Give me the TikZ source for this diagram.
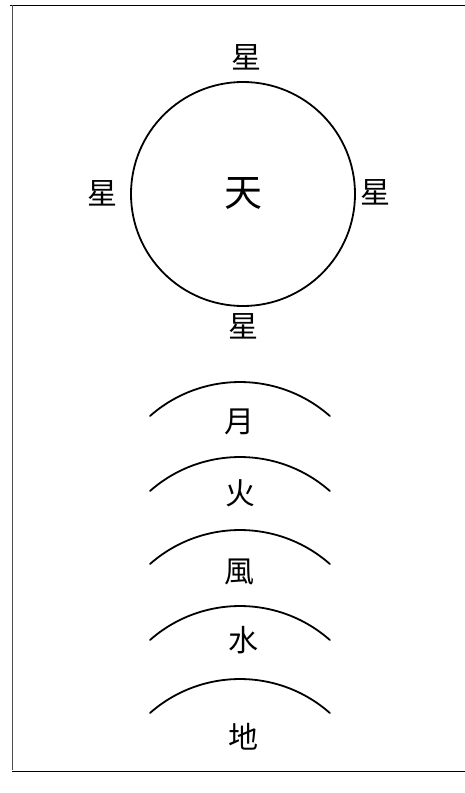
\documentclass[tikz,border=0pt]{standalone}
\usepackage{fontspec}
\newfontfamily\cjk{Noto Sans CJK TC}
\begin{document}
\begin{tikzpicture}[x=1pt,y=-1pt,
  lbl/.style={font=\cjk\fontsize{30}{30}\selectfont, inner sep=0pt},
  biglbl/.style={font=\cjk\fontsize{38}{38}\selectfont, inner sep=0pt},
  layer/.style={line width=1.8pt, line cap=round},
  frame/.style={line width=1pt}]
\useasboundingbox (0,0) rectangle (465,793);
% frame
\draw[frame] (465,5) -- (10,5);
\draw[line width=0.8pt, black!70] (12,5) -- (12,770);
\draw[frame] (12,771) -- (465,771);
% heaven circle
\node[draw, circle, line width=1.8pt, minimum size=224pt, inner sep=0pt] (sky) at (243,194) {};
\node[biglbl] (tian) at (243,193) {天};
\node[lbl] (sN) at (246,57) {星};
\node[lbl] (sW) at (102,193) {星};
\node[lbl] (sE) at (375,192) {星};
\node[lbl] (sS) at (243,326) {星};
% layers
\foreach \y in {382,457,530,606,679}{
  \draw[layer] (150,\y+34) arc[start angle=-131.4, end angle=-48.6, radius=136];
}
\node[lbl] (yue) at (239,422) {月};
\node[lbl] (huo) at (240,493) {火};
\node[lbl] (feng) at (239,572) {風};
\node[lbl] (shui) at (243,640) {水};
\node[lbl] (di) at (243,737) {地};
\end{tikzpicture}
\end{document}
